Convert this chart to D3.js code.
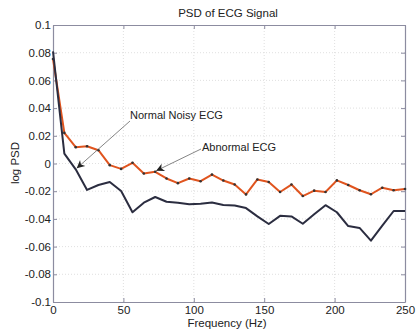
<!DOCTYPE html>
<html><head><meta charset="utf-8">
<script src="https://cdn.jsdelivr.net/npm/d3@7"></script>
<style>body{margin:0;background:#fff}svg{display:block;font-family:"Liberation Sans",Arial,sans-serif}</style>
</head><body><svg id="c" width="416" height="330"></svg>
<script>
const title = "PSD of ECG Signal";
const xLabel = "Frequency (Hz)";
const yLabel = "log PSD";
const xTicks = [0, 50, 100, 150, 200, 250];
const yTicks = [-0.1, -0.08, -0.06, -0.04, -0.02, 0, 0.02, 0.04, 0.06, 0.08, 0.1];
const yTickLabels = ["-0.1","-0.08","-0.06","-0.04","-0.02","0","0.02","0.04","0.06","0.08","0.1"];
const freqs = d3.range(32).map(i => i * 250 / 31);
const abnormal = [0.0755, 0.0221, 0.0118, 0.0125, 0.0096, -0.0012, -0.0039, 0.0005, -0.0072, -0.006,
  -0.0108, -0.0142, -0.0108, -0.0128, -0.008, -0.0123, -0.0152, -0.0223, -0.0115, -0.0134,
  -0.0206, -0.0152, -0.0235, -0.0196, -0.0206, -0.0122, -0.0155, -0.0193, -0.0222, -0.0175,
  -0.0193, -0.0184];
const normal = [0.081, 0.0071, -0.0042, -0.0191, -0.0155, -0.0134, -0.0199, -0.0352, -0.0283, -0.0242,
  -0.0276, -0.0283, -0.0295, -0.029, -0.0281, -0.03, -0.0303, -0.0322, -0.0382, -0.0437,
  -0.0378, -0.0382, -0.0435, -0.0367, -0.0301, -0.0352, -0.0452, -0.0465, -0.0557, -0.0448,
  -0.0343, -0.0343];
const annotations = [
  {text: "Normal Noisy ECG", series: "normal", idx: 2, tx: 130, ty: 119, ax: 130, ay: 121},
  {text: "Abnormal ECG", series: "abnormal", idx: 9, tx: 202, ty: 151, ax: 201, ay: 149}
];

const svg = d3.select("#c");
const m = {l: 53, r: 405, t: 25, b: 302};
const x = d3.scaleLinear().domain([0, 250]).range([m.l, m.r]);
const y = d3.scaleLinear().domain([-0.1, 0.1]).range([m.b, m.t]);
const boxColor = "#8c8ca0";
const FS = 11.5;

// grid
const g = svg.append("g");
g.selectAll(".gx").data(xTicks.slice(1, -1)).join("line")
  .attr("x1", d => x(d)).attr("x2", d => x(d)).attr("y1", m.t).attr("y2", m.b)
  .attr("stroke", "#d8d8d8").attr("stroke-width", 0.8).attr("stroke-dasharray", "1,2");
g.selectAll(".gy").data(yTicks.slice(1, -1)).join("line")
  .attr("y1", d => y(d)).attr("y2", d => y(d)).attr("x1", m.l).attr("x2", m.r)
  .attr("stroke", "#d8d8d8").attr("stroke-width", 0.8).attr("stroke-dasharray", "1,2");

// axes
const fmt = d => yTickLabels[yTicks.indexOf(d)];
const axL = svg.append("g").attr("transform", `translate(${m.l},0)`)
  .call(d3.axisLeft(y).tickValues(yTicks).tickFormat(fmt).tickSizeInner(-4).tickSizeOuter(0).tickPadding(2));
const axR = svg.append("g").attr("transform", `translate(${m.r},0)`)
  .call(d3.axisRight(y).tickValues(yTicks).tickFormat("").tickSizeInner(-4).tickSizeOuter(0));
const axB = svg.append("g").attr("transform", `translate(0,${m.b})`)
  .call(d3.axisBottom(x).tickValues(xTicks).tickSizeInner(-4).tickSizeOuter(0).tickPadding(4));
const axT = svg.append("g").attr("transform", `translate(0,${m.t})`)
  .call(d3.axisTop(x).tickValues(xTicks).tickFormat("").tickSizeInner(-4).tickSizeOuter(0));
[axL, axR, axB, axT].forEach(a => {
  a.select(".domain").attr("stroke", boxColor).attr("stroke-width", 1.2);
  a.selectAll(".tick line").attr("stroke", boxColor);
  a.selectAll("text").attr("fill", "#222").attr("font-size", FS).attr("font-family", '"Liberation Sans",Arial,sans-serif');
});

// lines
const line = d3.line().x((d, i) => x(freqs[i])).y(d => y(d));
svg.append("path").datum(abnormal).attr("d", line).attr("fill", "none")
  .attr("stroke", "#e0541e").attr("stroke-width", 2).attr("stroke-linejoin", "round");
svg.selectAll(".dot").data(abnormal).join("circle")
  .attr("cx", (d, i) => x(freqs[i])).attr("cy", d => y(d)).attr("r", 1.3).attr("fill", "#333");
svg.append("path").datum(normal).attr("d", line).attr("fill", "none")
  .attr("stroke", "#2b2d40").attr("stroke-width", 2).attr("stroke-linejoin", "round");

// annotations
svg.append("defs").append("marker").attr("id", "ah").attr("viewBox", "0 0 10 10")
  .attr("refX", 10).attr("refY", 5).attr("markerWidth", 10).attr("markerHeight", 8)
  .attr("markerUnits", "userSpaceOnUse").attr("orient", "auto")
  .append("path").attr("d", "M0,0 L10,5 L0,10 L3,5 z").attr("fill", "#222");
const series = {normal, abnormal};
annotations.forEach(a => {
  const px = x(freqs[a.idx]), py = y(series[a.series][a.idx]);
  svg.append("line").attr("x1", a.ax).attr("y1", a.ay).attr("x2", px + 1).attr("y2", py - 1)
    .attr("stroke", "#666").attr("stroke-width", 0.8).attr("marker-end", "url(#ah)");
  svg.append("text").attr("x", a.tx).attr("y", a.ty).attr("font-size", 11).attr("fill", "#222").text(a.text);
});

// labels
svg.append("text").attr("x", 228).attr("y", 17).attr("text-anchor", "middle").attr("font-size", FS).attr("fill", "#222").text(title);
svg.append("text").attr("x", 227).attr("y", 327).attr("text-anchor", "middle").attr("font-size", FS).attr("fill", "#222").text(xLabel);
svg.append("text").attr("transform", "translate(19,163) rotate(-90)").attr("text-anchor", "middle").attr("font-size", FS).attr("fill", "#222").text(yLabel);
</script></body></html>
